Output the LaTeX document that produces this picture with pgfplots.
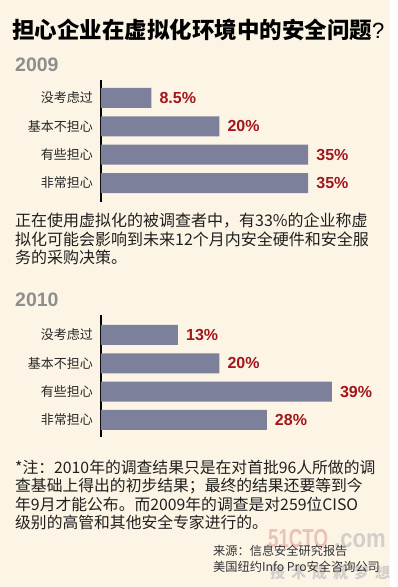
\documentclass[border=0pt]{standalone}
\usepackage{fontspec}
\usepackage{pgfplots}
\pgfplotsset{compat=1.18}
\setmainfont{Liberation Sans}
\newfontfamily\cjk{Noto Sans CJK SC}
\definecolor{cream}{HTML}{FCF5E6}
\definecolor{barc}{HTML}{7C809B}
\definecolor{redc}{HTML}{A3151B}
\definecolor{yearc}{HTML}{8E8E8E}
\definecolor{wmred}{HTML}{ECC0BC}
\definecolor{wmgray}{HTML}{D2CFCA}

\pgfplotsset{
 mybar/.style={
  xbar, scale only axis, width=266.4pt, height=122pt,
  xmin=0, xmax=45, axis x line=none, axis y line=left,
  axis line style={-, line width=2pt, black},
  ytick={0,1,2,3}, yticklabels={非常担心,有些担心,基本不担心,没考虑过},
  ytick style={draw=none}, major tick length=0pt,
  yticklabel style={font=\cjk\fontsize{13}{13}\selectfont, inner sep=0pt, xshift=-8pt, text=black!85},
  bar width=20pt, clip=false,
  point meta=x,
  /pgf/number format/assume math mode=true,
  nodes near coords={\pgfmathprintnumber[assume math mode=true]{\pgfplotspointmeta}\%},
  nodes near coords style={font=\bfseries\fontsize{16}{16}\selectfont, text=redc, inner sep=0pt, xshift=8pt, anchor=west},
 }
}

\begin{document}
\begin{tikzpicture}[x=1pt,y=1pt]
\useasboundingbox (0,0) rectangle (397,587);
\fill[white] (0,0) rectangle (397,587);
\fill[cream] (0,0) rectangle (390,587);

% title
\node[anchor=west, inner sep=0pt] at (12,557) {\cjk\bfseries\fontsize{22.5}{24}\selectfont 担心企业在虚拟化环境中的安全问题\normalfont\fontsize{22}{24}\selectfont ?};

% 2009
\node[anchor=base west, inner sep=0pt, text=yearc] at (15,515) {\bfseries\fontsize{19.5}{20}\selectfont 2009};
\begin{axis}[mybar, at={(101pt,385pt)}, anchor=south west, ymin=-0.67, ymax=3.635]
\addplot[fill=barc, draw=none] coordinates {(35,0) (35,1) (20,2) (8.5,3)};
\end{axis}

\node[anchor=north west, inner sep=0pt, align=left, font=\cjk\fontsize{16}{18.3}\selectfont, text=black!88] at (15,374) {正在使用虚拟化的被调查者中，有33\%的企业称虚\\拟化可能会影响到未来12个月内安全硬件和安全服\\务的采购决策。};

% 2010
\node[anchor=base west, inner sep=0pt, text=yearc] at (15,280) {\bfseries\fontsize{19.5}{20}\selectfont 2010};
\begin{axis}[mybar, at={(101pt,150pt)}, anchor=south west, ymin=-0.6, ymax=3.705]
\addplot[fill=barc, draw=none] coordinates {(28,0) (39,1) (20,2) (13,3)};
\end{axis}

\node[anchor=north west, inner sep=0pt, align=left, font=\cjk\fontsize{15.8}{18.3}\selectfont, text=black!88] at (15,127) {*注：2010年的调查结果只是在对首批96人所做的调\\查基础上得出的初步结果；最终的结果还要等到今\\年9月才能公布。而2009年的调查是对259位CISO\\级别的高管和其他安全专家进行的。};

% watermark
\node[anchor=base west, inner sep=0pt, text=wmred, xscale=0.72] at (268,39) {\bfseries\fontsize{26}{26}\selectfont 51CTO};
\node[anchor=base west, inner sep=0pt, text=wmgray, xscale=0.85] at (334,39) {\bfseries\fontsize{26}{26}\selectfont .com};
\node[anchor=base west, inner sep=0pt, text=wmgray] at (270,9) {\cjk\bfseries\fontsize{15}{15}\selectfont 技\hspace{6pt}术\hspace{6pt}成\hspace{6pt}就\hspace{6pt}梦\hspace{6pt}想};

% source
\node[anchor=north west, inner sep=0pt, align=left, font=\cjk\fontsize{12.2}{16}\selectfont, text=black!80] at (213,42) {来源：信息安全研究报告\\美国纽约Info Pro安全咨询公司};
\end{tikzpicture}
\end{document}
